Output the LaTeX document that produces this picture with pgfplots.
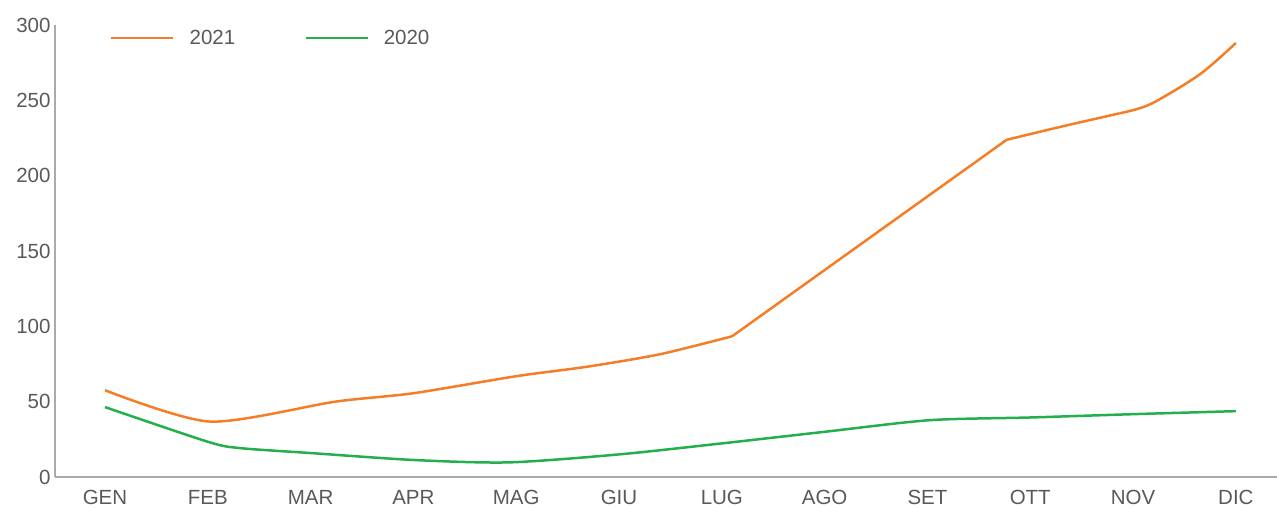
\documentclass[border=0pt]{standalone}
\usepackage{fontspec}
\setmainfont{Liberation Sans}
\usepackage{pgfplots}
\pgfplotsset{compat=1.18}
\definecolor{corange}{RGB}{244,125,38}
\definecolor{cgreen}{RGB}{35,175,75}
\definecolor{ctext}{RGB}{89,89,89}
\definecolor{caxis}{RGB}{170,170,172}
\begin{document}
\begin{tikzpicture}
\path[use as bounding box] (-55pt,-31pt) rectangle (1222pt,477pt);
\begin{axis}[
  at={(0,0)}, anchor=south west,
  scale only axis, width=1222pt, height=452pt,
  xmin=-0.486, xmax=11.4, ymin=0, ymax=300,
  axis x line*=bottom, axis y line*=left,
  axis line style={caxis, line width=1.2pt},
  major tick length=0pt,
  xtick={0,...,11},
  xticklabels={GEN,FEB,MAR,APR,MAG,GIU,LUG,AGO,SET,OTT,NOV,DIC},
  ytick={0,50,...,300},
  /pgf/number format/assume math mode=true,
  tick label style={font=\fontsize{20.5}{24}\selectfont, text=ctext},
  xticklabel style={yshift=-10pt},
  yticklabel style={xshift=-1pt},
  legend columns=2,
  legend style={draw=none, fill=none, inner sep=0pt,
    at={(axis description cs:0.045,0.971)}, anchor=west,
    font=\fontsize{20.5}{24}\selectfont, text=ctext,
    /tikz/every even column/.append style={column sep=54pt},
    nodes={inner xsep=15pt}},
  legend image code/.code={\draw[#1, line width=2.5pt] (0pt,0pt) -- (62pt,0pt);},
]
\addplot[corange, line width=2.5pt, smooth, tension=0.45] coordinates {
(0,57.6) (1.02,36.8) (2.24,50.0) (3.0,55.6) (4.0,66.9) (4.69,73.2) (5.4,81.5) (6.10,93.4)
};
\addlegendentry{2021}
\addplot[cgreen, line width=2.5pt, smooth, tension=0.45] coordinates {
(0,46.4) (1,23.4) (1.31,19.2) (2,15.9) (3,11.3) (3.93,9.7) (5,15.0) (6,22.3) (7,30.0) (8.02,37.7) (9,39.5) (10,41.7) (11,43.7)
};
\addlegendentry{2020}
\addplot[corange, line width=2.5pt, forget plot] coordinates {
(6.10,93.4) (8.77,223.8)
};
\addplot[corange, line width=2.5pt, smooth, tension=0.5, forget plot] coordinates {
(8.77,223.8) (9.3,232.5) (9.87,241.4)
};
\addplot[corange, line width=2.5pt, smooth, tension=0.5, forget plot] coordinates {
(9.87,241.4) (10.17,247.5) (10.65,267.3) (11,288.1)
};
\end{axis}
\end{tikzpicture}
\end{document}
